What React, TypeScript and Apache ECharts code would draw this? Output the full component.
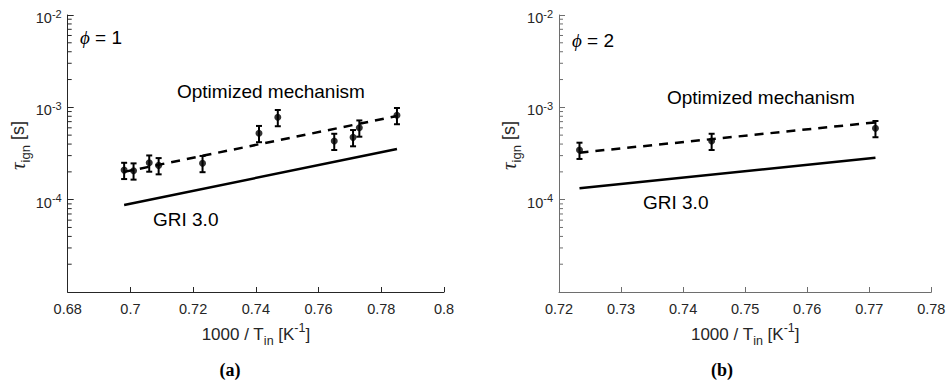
import React, { useEffect, useRef } from "react";
import * as echarts from "echarts";

// Panel (a): phi = 1
const phi1InvT = [0.698, 0.701, 0.706, 0.709, 0.723, 0.741, 0.747, 0.765, 0.771, 0.773, 0.785];
const phi1Tau = [2.09e-4, 2.06e-4, 2.51e-4, 2.35e-4, 2.48e-4, 5.24e-4, 7.8e-4, 4.31e-4, 4.73e-4, 6.01e-4, 8.2e-4];
const phi1FitInvT = [0.698, 0.785];
const phi1OptimizedTau = [2.0e-4, 8.05e-4];
const phi1GriTau = [8.75e-5, 3.54e-4];

// Panel (b): phi = 2
const phi2InvT = [0.7233, 0.7446, 0.771];
const phi2Tau = [3.45e-4, 4.31e-4, 5.93e-4];
const phi2FitInvT = [0.7233, 0.771];
const phi2OptimizedTau = [3.23e-4, 6.87e-4];
const phi2GriTau = [1.33e-4, 2.84e-4];

// relative measurement uncertainty
const relError = 0.2;

const xRanges = [
  { min: 0.68, max: 0.8, interval: 0.02 },
  { min: 0.72, max: 0.78, interval: 0.01 },
];
const yRange = { min: 1e-5, max: 1e-2 };
const decades = [-5, -4, -3];
const minorMultipliers = [2, 3, 4, 5, 6, 7, 8, 9];

const SANS = "'Liberation Sans', Arial, Helvetica, sans-serif";
const SERIF = "'Liberation Serif', 'Times New Roman', serif";
const AXIS_COLORS = ["#262626", "#6e6e6e"];

function pairs(xs: number[], ys: number[]) {
  return xs.map((x, i) => [x, ys[i]]);
}

function errorBars(idx: number, xs: number[], ys: number[]) {
  return {
    type: "custom",
    xAxisIndex: idx,
    yAxisIndex: idx,
    silent: true,
    z: 3,
    data: xs.map((x, i) => [x, ys[i] * (1 - relError), ys[i] * (1 + relError)]),
    encode: { x: 0, y: [1, 2] },
    renderItem: (_p: any, api: any) => {
      const lo = api.coord([api.value(0), api.value(1)]);
      const hi = api.coord([api.value(0), api.value(2)]);
      const h = 3;
      const st = { stroke: "#000", lineWidth: 2 };
      return {
        type: "group",
        children: [
          { type: "line", shape: { x1: lo[0], y1: lo[1], x2: hi[0], y2: hi[1] }, style: st },
          { type: "line", shape: { x1: lo[0] - h, y1: lo[1], x2: lo[0] + h, y2: lo[1] }, style: st },
          { type: "line", shape: { x1: hi[0] - h, y1: hi[1], x2: hi[0] + h, y2: hi[1] }, style: st },
        ],
      };
    },
  };
}

// log-spaced minor ticks on the y axis (2..9 x 10^e), one item per decade
function minorTicks(idx: number) {
  const x0 = xRanges[idx].min;
  return {
    type: "custom",
    xAxisIndex: idx,
    yAxisIndex: idx,
    silent: true,
    z: 5,
    data: decades.map((e) => [x0, Math.pow(10, e)]),
    encode: { x: 0, y: 1 },
    renderItem: (_p: any, api: any) => {
      const base = api.value(1);
      const xv = api.value(0);
      const children = minorMultipliers.map((m) => {
        const p = api.coord([xv, m * base]);
        return {
          type: "line",
          shape: { x1: p[0], y1: p[1], x2: p[0] + 4, y2: p[1] },
          style: { stroke: AXIS_COLORS[idx], lineWidth: 1 },
        };
      });
      return { type: "group", children };
    },
  };
}

function panelSeries(idx: number, xs: number[], ys: number[], fitX: number[], opt: number[], gri: number[]) {
  return [
    {
      type: "line",
      xAxisIndex: idx,
      yAxisIndex: idx,
      data: pairs(fitX, opt),
      showSymbol: false,
      lineStyle: { color: "#000", width: 2.5, type: [9, 7] },
      z: 2,
    },
    {
      type: "line",
      xAxisIndex: idx,
      yAxisIndex: idx,
      data: pairs(fitX, gri),
      showSymbol: false,
      lineStyle: { color: "#000", width: 2.5 },
      z: 2,
    },
    errorBars(idx, xs, ys),
    {
      type: "scatter",
      xAxisIndex: idx,
      yAxisIndex: idx,
      data: pairs(xs, ys),
      symbol: "circle",
      symbolSize: 7,
      itemStyle: { color: "#000" },
      z: 4,
    },
    minorTicks(idx),
  ];
}

function xAxis(idx: number) {
  const c = AXIS_COLORS[idx];
  return {
    type: "value",
    gridIndex: idx,
    min: xRanges[idx].min,
    max: xRanges[idx].max,
    interval: xRanges[idx].interval,
    splitLine: { show: false },
    axisLine: { lineStyle: { color: c, width: 1 } },
    axisTick: { inside: true, length: 5, lineStyle: { color: c, width: 1 } },
    axisLabel: {
      color: "#262626",
      fontFamily: SANS,
      fontSize: 14.5,
      margin: 9,
      formatter: (v: number) => String(+v.toFixed(2)),
    },
    name: "{n|1000 / T}{sub|in}{n| [K}{sup|-1}{n|]}",
    nameLocation: "middle",
    nameGap: 29,
    nameTextStyle: {
      rich: {
        n: { fontFamily: SANS, fontSize: 17, color: "#262626", lineHeight: 26 },
        sub: { fontFamily: SANS, fontSize: 12.5, color: "#262626", lineHeight: 12, verticalAlign: "bottom" },
        sup: { fontFamily: SANS, fontSize: 12.5, color: "#262626", lineHeight: 12, verticalAlign: "top" },
      },
    },
  };
}

function yAxis(idx: number) {
  const c = AXIS_COLORS[idx];
  return {
    type: "log",
    logBase: 10,
    gridIndex: idx,
    min: yRange.min,
    max: yRange.max,
    splitLine: { show: false },
    axisLine: { show: true, lineStyle: { color: c, width: 1 } },
    axisTick: { show: true, inside: true, length: 6, lineStyle: { color: c, width: 1 } },
    axisLabel: {
      margin: 6,
      formatter: (v: number) => {
        const e = Math.round(Math.log10(v));
        if (e <= -5) return "";
        return `{b|10}{s|${e}}`;
      },
      rich: {
        b: { fontFamily: SANS, fontSize: 14.5, color: "#262626", lineHeight: 16, padding: [6, 0, 0, 0] },
        s: { fontFamily: SANS, fontSize: 11, color: "#262626", lineHeight: 12, verticalAlign: "top", padding: [1, 0, 0, 0] },
      },
    },
    name: "{t|τ}{sub|ign}{n| [s]}",
    nameLocation: "middle",
    nameGap: 36,
    nameRotate: 90,
    nameTextStyle: {
      padding: [0, 0, 0, 16],
      rich: {
        t: { fontFamily: SERIF, fontStyle: "italic", fontSize: 21, color: "#262626", lineHeight: 28 },
        n: { fontFamily: SANS, fontSize: 18, color: "#262626", lineHeight: 28 },
        sub: { fontFamily: SANS, fontSize: 13, color: "#262626", lineHeight: 13, verticalAlign: "bottom" },
      },
    },
  };
}

function label(text: string, x: number, y: number, rich?: any, font?: string) {
  return {
    type: "text",
    x,
    y,
    silent: true,
    style: {
      text,
      font: font || `19px ${SANS}`,
      fill: "#000",
      align: "left",
      verticalAlign: "middle",
      textAlign: "left",
      textVerticalAlign: "middle",
      rich,
    },
  };
}

const phiRich = {
  p: { fontFamily: SERIF, fontStyle: "italic", fontSize: 19, color: "#000" },
  n: { fontFamily: SANS, fontSize: 19, color: "#000" },
};

export default function App() {
  const ref = useRef<HTMLDivElement>(null);

  useEffect(() => {
    if (!ref.current) return;
    const chart = echarts.init(ref.current, undefined, { renderer: "svg" });
    chart.setOption({
      animation: false,
      backgroundColor: "#fff",
      grid: [
        { left: 67.7, top: 15, width: 376.3, height: 277 },
        { left: 559, top: 15, width: 372.3, height: 277 },
      ],
      xAxis: [xAxis(0), xAxis(1)],
      yAxis: [yAxis(0), yAxis(1)],
      series: [
        ...panelSeries(0, phi1InvT, phi1Tau, phi1FitInvT, phi1OptimizedTau, phi1GriTau),
        ...panelSeries(1, phi2InvT, phi2Tau, phi2FitInvT, phi2OptimizedTau, phi2GriTau),
      ],
      graphic: [
        label("{p|ϕ}{n| = 1}", 80, 37, phiRich),
        label("{p|ϕ}{n| = 2}", 572, 40, phiRich),
        label("Optimized mechanism", 177, 91),
        label("Optimized mechanism", 667, 97),
        label("GRI 3.0", 153, 219),
        label("GRI 3.0", 643, 202),
        {
          type: "text",
          x: 230,
          y: 370,
          silent: true,
          style: { text: "(a)", font: `bold 18px ${SERIF}`, fill: "#000", align: "center", verticalAlign: "middle", textAlign: "center", textVerticalAlign: "middle" },
        },
        {
          type: "text",
          x: 722,
          y: 370,
          silent: true,
          style: { text: "(b)", font: `bold 18px ${SERIF}`, fill: "#000", align: "center", verticalAlign: "middle", textAlign: "center", textVerticalAlign: "middle" },
        },
      ],
    });
    return () => chart.dispose();
  }, []);

  return (
    <div
      ref={ref}
      style={{ position: "fixed", left: 0, top: 0, width: 949, height: 382, background: "#fff" }}
    />
  );
}
